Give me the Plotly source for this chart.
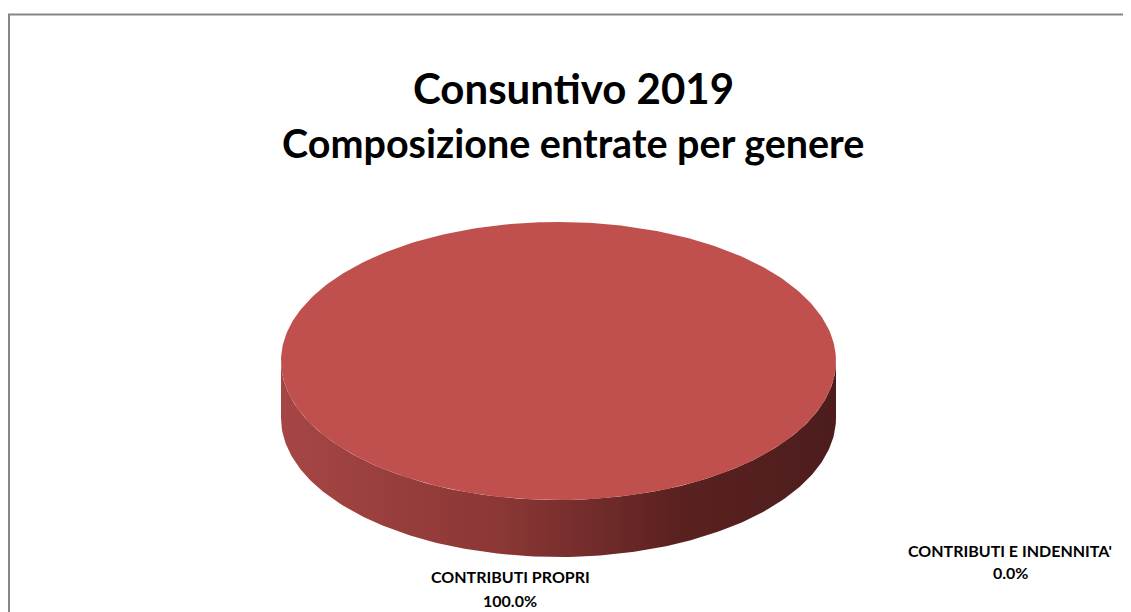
import numpy as np
import plotly.graph_objects as go

# data
categories = ["CONTRIBUTI PROPRI", "CONTRIBUTI E INDENNITA'"]
shares = [100.0, 0.0]
top_colours = ["#C0504D", "#4F81BD"]

TITLE = "Consuntivo 2019"
SUBTITLE = "Composizione entrate per genere"

FONT = "Lato, sans-serif"

# geometry of the tilted pie (pixel-like axis units, y pointing down)
CX, CY = 550.5, 353
RX, RY = 277.5, 139
DEPTH = 57

fig = go.Figure()

total = sum(shares)
start = -np.pi / 2  # start at 12 o'clock
for cat, val, col in zip(categories, shares, top_colours):
    sweep = 2 * np.pi * val / total
    if sweep <= 0:
        continue
    t = np.linspace(start, start + sweep, 361)

    # front side wall: only the part facing the viewer
    if sweep >= 2 * np.pi:
        tf = np.linspace(0, np.pi, 200)
    else:
        tf = t[np.sin(t) > 0]
    if len(tf) > 1:
        xs = np.concatenate([CX + RX * np.cos(tf), CX + RX * np.cos(tf[::-1])])
        ys = np.concatenate([CY + RY * np.sin(tf), CY + DEPTH + RY * np.sin(tf[::-1])])
        fig.add_trace(go.Scatter(
            x=xs, y=ys, mode="lines", fill="toself",
            line=dict(width=0),
            fillgradient=dict(type="horizontal",
                              colorscale=[[0, "#A64644"], [0.4, "#8A3735"],
                                          [0.72, "#5A2120"], [1, "#4D1D1D"]]),
            hoverinfo="skip", showlegend=False,
        ))

    # top face
    xt = CX + RX * np.cos(t)
    yt = CY + RY * np.sin(t)
    if sweep < 2 * np.pi:
        xt = np.concatenate([[CX], xt, [CX]])
        yt = np.concatenate([[CY], yt, [CY]])
    fig.add_trace(go.Scatter(
        x=xt, y=yt, mode="lines", fill="toself",
        fillcolor=col, line=dict(width=0),
        name=cat, hoverinfo="name", showlegend=False,
    ))
    start += sweep

# data labels (name on one line, percentage below)
label_pos = [(502, 568, 592), (1002, 542.5, 564)]
for cat, val, (lx, y1, y2) in zip(categories, shares, label_pos):
    for txt, ly in [(cat, y1), (f"{val:.1f}%", y2)]:
        fig.add_annotation(
            x=lx, y=ly, xref="x", yref="y",
            text=f"<b>{txt}</b>",
            showarrow=False, align="center",
            font=dict(size=16, color="#000000", family=FONT),
        )

# titles
fig.add_annotation(x=565, y=80, xref="x", yref="y", text=f"<b>{TITLE}</b>",
                   showarrow=False, font=dict(size=42, color="#000000", family=FONT))
fig.add_annotation(x=565, y=134, xref="x", yref="y", text=f"<b>{SUBTITLE}</b>",
                   showarrow=False, font=dict(size=39.5, color="#000000", family=FONT))

# chart frame
fig.add_shape(type="rect", xref="paper", yref="paper",
              x0=1 / 1131, x1=1.05, y0=-0.05, y1=1 - 6.5 / 612,
              line=dict(color="#868686", width=2), fillcolor="rgba(0,0,0,0)")

fig.update_layout(
    width=1131, height=612,
    margin=dict(l=0, r=0, t=0, b=0),
    paper_bgcolor="#FFFFFF", plot_bgcolor="#FFFFFF",
    xaxis=dict(range=[0, 1131], visible=False, fixedrange=True),
    yaxis=dict(range=[612, 0], visible=False, fixedrange=True),
)

fig.write_html("out.html")
